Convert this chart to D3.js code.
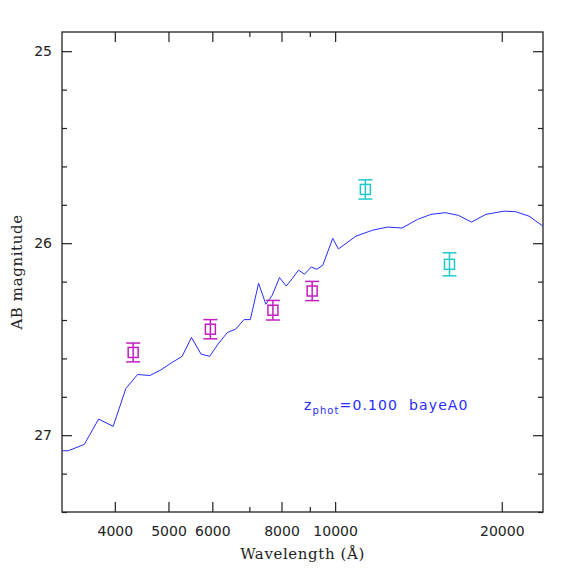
<!DOCTYPE html>
<html>
<head>
<meta charset="utf-8">
<script src="https://cdn.jsdelivr.net/npm/d3@7"></script>
<style>
  body { margin: 0; background: #fff; }
  .tick-label { font-family: "DejaVu Sans", sans-serif; font-size: 14px; fill: #222; }
  .axis-title { font-family: "DejaVu Serif", serif; font-size: 15px; fill: #222; letter-spacing: 0.6px; }
</style>
</head>
<body>
<div id="chart"></div>
<script>
// model spectrum (wavelength in Angstrom, AB mag)
let sedWave = [3211, 3296, 3523, 3740, 3972, 4188, 4397, 4628, 4843, 5076, 5291, 5502,
  5726, 5935, 6143, 6388, 6612, 6845, 7028, 7274, 7497, 7698, 7935, 8159, 8365, 8586,
  8804, 9052, 9265, 9498, 9901, 10137, 10910, 11690, 12437, 13203, 14088, 14894, 15803,
  16700, 17630, 18716, 20196, 21195, 22397, 23740];
let sedMag = [27.081, 27.081, 27.048, 26.916, 26.954, 26.757, 26.684, 26.689, 26.660, 26.621,
  26.590, 26.491, 26.578, 26.589, 26.526, 26.465, 26.448, 26.398, 26.398, 26.209, 26.318,
  26.271, 26.179, 26.223, 26.185, 26.140, 26.162, 26.124, 26.136, 26.115, 25.975, 26.030,
  25.963, 25.932, 25.916, 25.921, 25.876, 25.850, 25.841, 25.855, 25.890, 25.850, 25.833,
  25.836, 25.859, 25.911];

// photometry: optical bands (magenta) and near-IR bands (cyan)
let optWave = [4317, 5952, 7720, 9089];
let optMag = [26.569, 26.448, 26.349, 26.249];
let optErr = [0.049, 0.050, 0.051, 0.050];

let irWave = [11340, 16090];
let irMag = [25.720, 26.110];
let irErr = [0.050, 0.060];

let xTickLabels = [4000, 5000, 6000, 8000, 10000, 20000];
let xMinorTicks = [7000, 9000];
let yTickLabels = [25, 26, 27];

let width = 574;
let height = 574;
let margin = { top: 32, right: 31, bottom: 62, left: 62 };

let x = d3.scaleLog()
  .domain([3211, 23740])
  .range([margin.left, width - margin.right]);

let y = d3.scaleLinear()
  .domain([24.9, 27.4])
  .range([margin.top, height - margin.bottom]);

let svg = d3.select("#chart").append("svg")
  .attr("width", width)
  .attr("height", height);

svg.append("defs").append("clipPath")
  .attr("id", "plot-clip")
  .append("rect")
  .attr("x", margin.left)
  .attr("y", margin.top)
  .attr("width", width - margin.left - margin.right)
  .attr("height", height - margin.top - margin.bottom);

// frame
svg.append("rect")
  .attr("x", margin.left)
  .attr("y", margin.top)
  .attr("width", width - margin.left - margin.right)
  .attr("height", height - margin.top - margin.bottom)
  .attr("fill", "none")
  .attr("stroke", "#222")
  .attr("stroke-width", 1.3);

// x axes (bottom with labels, top without)
let xBottom = d3.axisBottom(x).tickValues(xTickLabels).tickFormat(d3.format("d")).tickSize(-10).tickPadding(14);
let xTop = d3.axisTop(x).tickValues(xTickLabels).tickFormat("").tickSize(-10);
let xBottomMinor = d3.axisBottom(x).tickValues(xMinorTicks).tickFormat("").tickSize(-5);
let xTopMinor = d3.axisTop(x).tickValues(xMinorTicks).tickFormat("").tickSize(-5);

svg.append("g").attr("transform", "translate(0," + (height - margin.bottom) + ")").call(xBottom);
svg.append("g").attr("transform", "translate(0," + (height - margin.bottom) + ")").call(xBottomMinor);
svg.append("g").attr("transform", "translate(0," + margin.top + ")").call(xTop);
svg.append("g").attr("transform", "translate(0," + margin.top + ")").call(xTopMinor);

// y axes
let yMinorTicks = d3.range(25, 27.41, 0.2).filter(function(d) {
  return Math.abs(d - Math.round(d)) > 0.01;
});

let yLeft = d3.axisLeft(y).tickValues(yTickLabels).tickFormat(d3.format("d")).tickSize(-10).tickPadding(10);
let yRight = d3.axisRight(y).tickValues(yTickLabels).tickFormat("").tickSize(-10);
let yLeftMinor = d3.axisLeft(y).tickValues(yMinorTicks).tickFormat("").tickSize(-5);
let yRightMinor = d3.axisRight(y).tickValues(yMinorTicks).tickFormat("").tickSize(-5);

svg.append("g").attr("transform", "translate(" + margin.left + ",0)").call(yLeft);
svg.append("g").attr("transform", "translate(" + margin.left + ",0)").call(yLeftMinor);
svg.append("g").attr("transform", "translate(" + (width - margin.right) + ",0)").call(yRight);
svg.append("g").attr("transform", "translate(" + (width - margin.right) + ",0)").call(yRightMinor);

svg.selectAll(".domain").remove();
svg.selectAll(".tick line").attr("stroke", "#222").attr("stroke-width", 1.2);
svg.selectAll(".tick text").attr("class", "tick-label").attr("font-family", null).attr("font-size", null);

// model line
let line = d3.line()
  .x(function(d) { return x(d[0]); })
  .y(function(d) { return y(d[1]); });

svg.append("path")
  .datum(d3.zip(sedWave, sedMag))
  .attr("clip-path", "url(#plot-clip)")
  .attr("fill", "none")
  .attr("stroke", "#2a2aff")
  .attr("stroke-width", 1)
  .attr("d", line);

// photometry points with error bars
function drawPoints(waves, mags, errs, color) {
  let g = svg.append("g").attr("stroke", color).attr("fill", "none").attr("stroke-width", 1.5);
  let pts = d3.zip(waves, mags, errs);
  let p = g.selectAll("g.pt").data(pts).enter().append("g").attr("class", "pt");

  p.append("line")
    .attr("x1", function(d) { return x(d[0]); })
    .attr("x2", function(d) { return x(d[0]); })
    .attr("y1", function(d) { return y(d[1] - d[2]); })
    .attr("y2", function(d) { return y(d[1] + d[2]); });

  p.append("line")
    .attr("x1", function(d) { return x(d[0]) - 7; })
    .attr("x2", function(d) { return x(d[0]) + 7; })
    .attr("y1", function(d) { return y(d[1] - d[2]); })
    .attr("y2", function(d) { return y(d[1] - d[2]); });

  p.append("line")
    .attr("x1", function(d) { return x(d[0]) - 7; })
    .attr("x2", function(d) { return x(d[0]) + 7; })
    .attr("y1", function(d) { return y(d[1] + d[2]); })
    .attr("y2", function(d) { return y(d[1] + d[2]); });

  p.append("rect")
    .attr("x", function(d) { return x(d[0]) - 5; })
    .attr("y", function(d) { return y(d[1]) - 5; })
    .attr("width", 10)
    .attr("height", 10);
}

drawPoints(optWave, optMag, optErr, "#c21fc2");
drawPoints(irWave, irMag, irErr, "#22c8c8");

// annotation
let note = svg.append("text")
  .attr("x", 304)
  .attr("y", 410)
  .attr("fill", "#2a2aff")
  .attr("font-family", "'DejaVu Sans', sans-serif")
  .attr("font-size", 14)
  .attr("letter-spacing", 1.1)
  .attr("xml:space", "preserve");
note.append("tspan").text("z");
note.append("tspan").attr("font-size", 10).attr("dy", 4).text("phot");
note.append("tspan").attr("dy", -4).text("=0.100  bayeA0");

// axis titles
svg.append("text")
  .attr("class", "axis-title")
  .attr("x", (margin.left + width - margin.right) / 2)
  .attr("y", 559)
  .attr("text-anchor", "middle")
  .text("Wavelength (Å)");

svg.append("text")
  .attr("class", "axis-title")
  .attr("transform", "translate(22," + ((margin.top + height - margin.bottom) / 2) + ") rotate(-90)")
  .attr("text-anchor", "middle")
  .text("AB magnitude");
</script>
</body>
</html>
